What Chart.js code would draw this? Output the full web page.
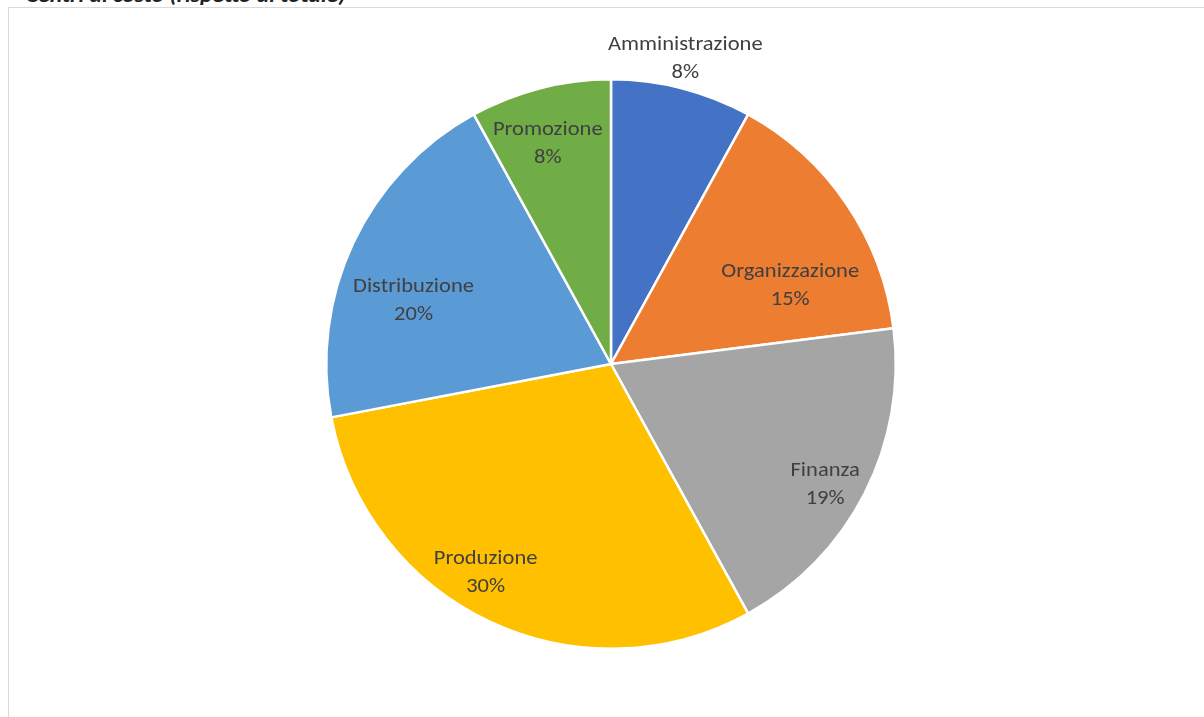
<!DOCTYPE html>
<html>
<head>
<meta charset="utf-8">
<script src="https://cdn.jsdelivr.net/npm/chart.js@4.4.1/dist/chart.umd.min.js"></script>
<style>
  html, body { margin: 0; padding: 0; background: #fff; }
  body { width: 1204px; height: 717px; position: relative; overflow: hidden; }
  #title-strip { position: absolute; left: 0; top: 0; width: 1204px; height: 6px; overflow: hidden; }
  #title-strip span { position: absolute; left: 26px; top: -18px; font: italic 600 21px Carlito, "Open Sans", sans-serif; color: #222; white-space: nowrap; transform: scaleX(1.12); transform-origin: left top; }
  #frame { position: absolute; left: 8px; top: 7px; width: 1210px; height: 720px; border: 1px solid #d9d9d9; box-sizing: border-box; }
  #wrap { position: absolute; left: 0; top: 0; width: 1204px; height: 717px; }
</style>
</head>
<body>
<div id="title-strip"><span>Centri di costo (rispetto al totale)</span></div>
<div id="frame"></div>
<div id="wrap"><canvas id="pie"></canvas></div>
<script>
const categories = ['Amministrazione', 'Organizzazione', 'Finanza', 'Produzione', 'Distribuzione', 'Promozione'];
const shares = [8, 15, 19, 30, 20, 8];
const sliceColors = ['#4472C4', '#ED7D31', '#A5A5A5', '#FFC000', '#5B9BD5', '#70AD47'];

// where each label sits: fraction of the radius, and a small turn (degrees) off the slice middle
const labelRadius = [1.11, 0.69, 0.86, 0.85, 0.73, 0.81];
const labelTurn = [-0.8, 10, 2, 6, -7, -1.5];

const sliceLabels = {
  id: 'sliceLabels',
  afterDatasetsDraw(chart) {
    const ctx = chart.ctx;
    const arcs = chart.getDatasetMeta(0).data;
    ctx.save();
    ctx.fillStyle = '#404040';
    ctx.font = '20.5px Carlito, "Open Sans", sans-serif';
    ctx.textAlign = 'center';
    ctx.textBaseline = 'middle';
    arcs.forEach((arc, i) => {
      const p = arc.getProps(['x', 'y', 'startAngle', 'endAngle', 'outerRadius'], true);
      const a = (p.startAngle + p.endAngle) / 2 + labelTurn[i] * Math.PI / 180;
      const r = p.outerRadius * labelRadius[i];
      const x = p.x + Math.cos(a) * r;
      const y = p.y + Math.sin(a) * r;
      // text is drawn a little wider than the font's own proportions
      ctx.save();
      ctx.translate(x, y);
      ctx.scale(1.1, 1);
      ctx.fillText(categories[i], 0, -12);
      ctx.fillText(shares[i] + '%', 0, 16);
      ctx.restore();
    });
    ctx.restore();
  }
};

new Chart(document.getElementById('pie'), {
  type: 'pie',
  data: {
    labels: categories,
    datasets: [{
      data: shares,
      backgroundColor: sliceColors,
      borderColor: '#ffffff',
      borderWidth: 2.5
    }]
  },
  options: {
    responsive: true,
    maintainAspectRatio: false,
    animation: false,
    layout: { padding: { left: 325, top: 78, right: 307, bottom: 67 } },
    plugins: {
      legend: { display: false },
      tooltip: { enabled: false }
    }
  },
  plugins: [sliceLabels]
});
</script>
</body>
</html>
